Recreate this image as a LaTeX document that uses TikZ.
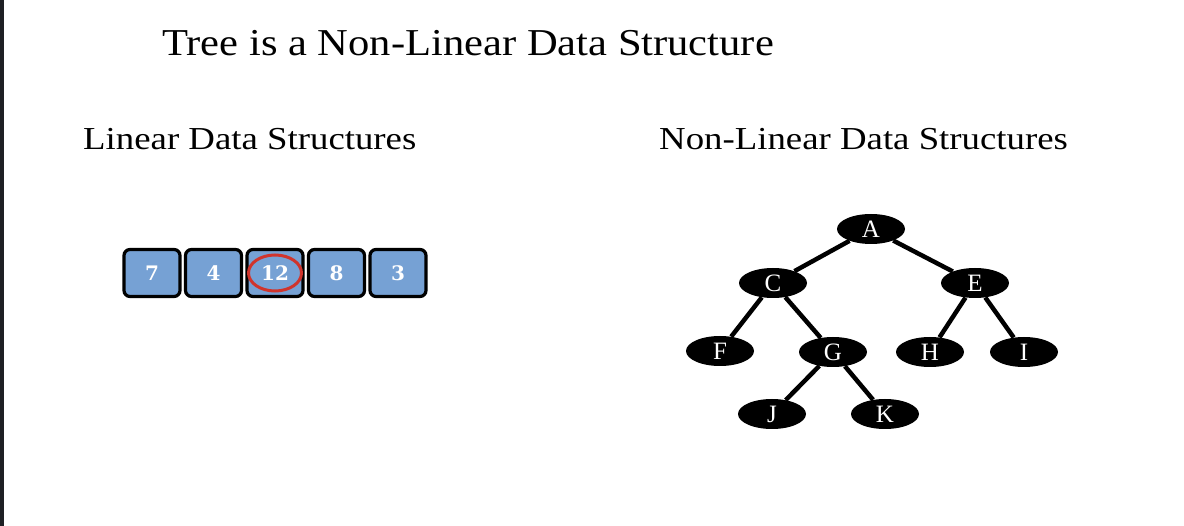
\documentclass[tikz,border=0pt]{standalone}
\usepackage{fontspec}
\setmainfont{Liberation Serif}
\newfontfamily\digitfont{DejaVu Serif}
\usetikzlibrary{shapes,positioning}
\definecolor{cellblue}{RGB}{118,161,212}
\definecolor{ringred}{RGB}{208,52,44}
\definecolor{edgedark}{RGB}{30,32,36}

\begin{document}
\begin{tikzpicture}[x=1pt,y=-1pt,
  lbl/.style={inner sep=0pt, anchor=base west},
  cell/.style={draw, rounded corners=6pt, line width=3.2pt, fill=cellblue, minimum width=56pt, minimum height=47pt, inner sep=0pt, text=white, font=\digitfont\bfseries\fontsize{20}{20}\selectfont}]
\tikzstyle{vtx}=[ellipse, fill=black, minimum width=68pt, minimum height=30pt, inner sep=0pt, text=white, font=\fontsize{25}{25}\selectfont]
\useasboundingbox (0,0) rectangle (1184,526);
\fill[edgedark] (0,0) rectangle (4,526);
% headings
\node[lbl, xscale=1.12, font=\fontsize{38}{40}\selectfont] (title) at (162,56) {Tree is a Non-Linear Data Structure};
\node[lbl, xscale=1.15, font=\fontsize{32}{34}\selectfont] (lin) at (83,150) {Linear Data Structures};
\node[lbl, xscale=1.15, font=\fontsize{32}{34}\selectfont] (nonlin) at (659,150) {Non-Linear Data Structures};
% array
\foreach \v [count=\i] in {7,4,12,8,3}{\node[cell] (c\i) at ({152+61.5*(\i-1)},273) {\v};}
\node[ellipse, draw=ringred, line width=3pt, minimum width=53pt, minimum height=36pt] (ring) at (c3) {};
% tree
\node[vtx] (a) at (871,229) {A};
\node[vtx] (c) at (773,283) {C};
\node[vtx] (e) at (975,283) {E};
\node[vtx] (f) at (720,351) {F};
\node[vtx] (g) at (833,352) {G};
\node[vtx] (h) at (930,352) {H};
\node[vtx] (i) at (1024,352) {I};
\node[vtx] (j) at (772,414) {J};
\node[vtx] (k) at (885,414) {K};
\foreach \i/\j in {a/c,a/e,c/f,c/g,e/h,e/i,g/j,g/k}{\draw[line width=4.5pt] (\i) -- (\j);}
\end{tikzpicture}
\end{document}
